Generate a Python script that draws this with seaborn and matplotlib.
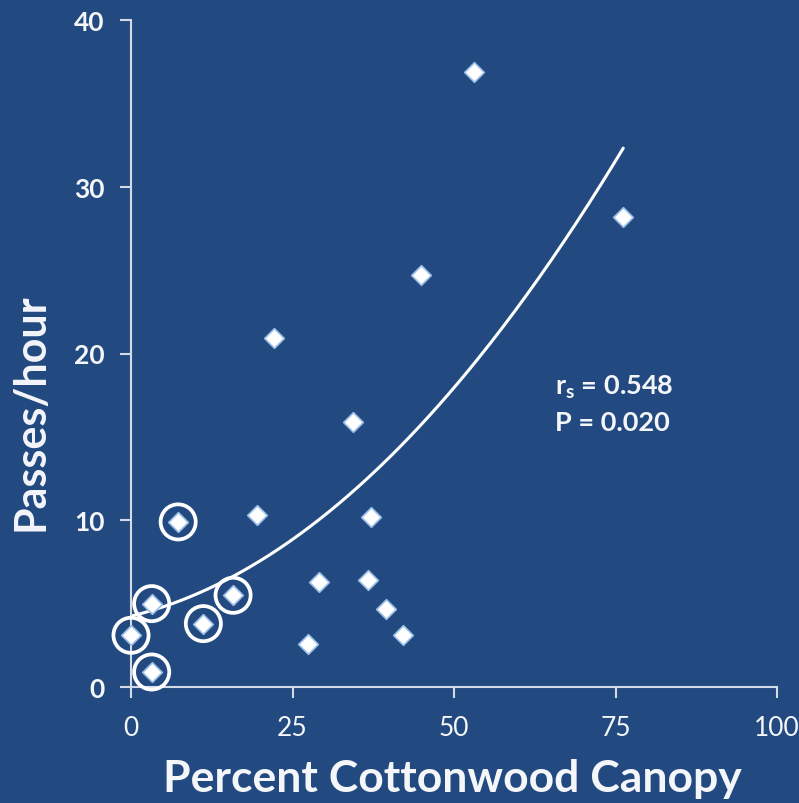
"""
Passes/hour vs percent cottonwood canopy, with a quadratic trend curve.
"""

import numpy as np
import pandas as pd
import matplotlib.pyplot as plt
import seaborn as sns

# values
canopy = [53.1, 76.1, 44.9, 22.1, 34.3, 19.5, 37.1, 7.3, 29.1, 36.7,
          39.5, 42.1, 27.4, 15.8, 11.2, 3.2, 0.0, 3.2]
passes = [36.9, 28.2, 24.7, 20.9, 15.9, 10.3, 10.2, 9.9, 6.3, 6.4,
          4.7, 3.1, 2.6, 5.5, 3.8, 5.0, 3.1, 0.9]
circled = [False, False, False, False, False, False, False, True, False, False,
           False, False, False, True, True, True, True, True]

# trend curve: passes = a + b*x + c*x^2, drawn from 0 to 76
trend_coef = [4.25, 0.094, 0.0036]
trend_range = [0.0, 76.2]

x_ticks = [0, 25, 50, 75, 100]
y_ticks = [0, 10, 20, 30, 40]
stats_lines = [r"$\mathbf{r_s}$ = 0.548", "P = 0.020"]

BG = "#224a80"
FG = "#f4f6fa"
AXIS = "#d5dbe6"

sns.set_style("ticks")
plt.rcParams["font.family"] = ["Lato", "DejaVu Sans"]
plt.rcParams["mathtext.fontset"] = "custom"
plt.rcParams["mathtext.rm"] = "Lato"
plt.rcParams["mathtext.bf"] = "Lato:bold"
plt.rcParams["mathtext.it"] = "Lato:italic"

df = pd.DataFrame({"canopy": canopy, "passes": passes, "circled": circled})
xs = np.linspace(trend_range[0], trend_range[1], 200)
a, b, c = trend_coef
trend = pd.DataFrame({"canopy": xs, "passes": a + b * xs + c * xs ** 2})

fig = plt.figure(figsize=(7.99, 8.04), dpi=100, facecolor=BG)
ax = fig.add_axes([131 / 799, 1 - 688 / 804, 646 / 799, 667 / 804])
ax.set_facecolor(BG)

sns.lineplot(data=trend, x="canopy", y="passes", color="white", linewidth=2.2, ax=ax)
sns.scatterplot(data=df[df["circled"]], x="canopy", y="passes", marker="o", s=640,
                facecolor="none", edgecolor="white", linewidth=2.7, ax=ax, clip_on=False,
                zorder=4)
sns.scatterplot(data=df, x="canopy", y="passes", marker="D", s=100, color="white",
                edgecolor="#9cc0e8", linewidth=1.2, ax=ax, clip_on=False, zorder=5)

ax.set_xlim(0, 100)
ax.set_ylim(0, 40)
ax.set_xticks(x_ticks)
ax.set_yticks(y_ticks)
sns.despine(ax=ax)
for side in ["left", "bottom"]:
    ax.spines[side].set_color(AXIS)
    ax.spines[side].set_linewidth(1.5)
ax.tick_params(axis="both", colors=AXIS, length=8, width=1.5, labelcolor=FG)
ax.tick_params(axis="x", labelsize=19, pad=12)
ax.tick_params(axis="y", labelsize=19, pad=11)
for lab in ax.get_yticklabels():
    lab.set_fontweight("bold")

ax.set_xlabel("Percent Cottonwood Canopy", fontsize=32, fontweight="bold", color=FG)
ax.set_ylabel("Passes/hour", fontsize=31, fontweight="bold", color=FG)
ax.xaxis.set_label_coords(0.497, -0.106)
ax.yaxis.set_label_coords(-0.125, 0.414)

for i, line in enumerate(stats_lines):
    ax.text(65.6, 18.0 - 2.1 * i, line, fontsize=19.5, fontweight="bold", color=FG,
            ha="left", va="center")

fig.savefig("out.png", dpi=100, facecolor=BG)
